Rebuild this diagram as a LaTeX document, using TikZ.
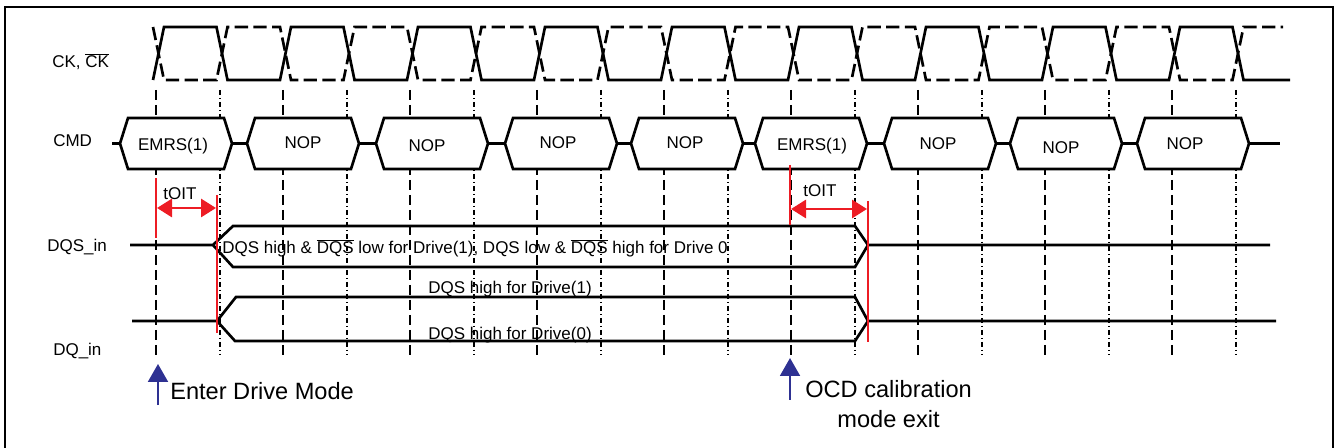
\documentclass[tikz,border=0pt]{standalone}
\usepackage{fontspec}
\setmainfont{Liberation Sans}
\usetikzlibrary{calc}
\usetikzlibrary{arrows.meta}
\definecolor{tred}{HTML}{ED1C24}
\definecolor{tblue}{HTML}{2E3192}

\begin{document}
\begin{tikzpicture}[x=0.75pt, y=-0.75pt,
    sig/.style={line width=2pt, line join=miter},
    ckbar/.style={sig, dash pattern=on 10pt off 4pt},
    tickA/.style={line width=1.5pt, dash pattern=on 7.5pt off 3.75pt},
    tickB/.style={line width=1.5pt, dash pattern=on 4pt off 2pt on 1pt off 2pt},
    txt/.style={font=\fontsize{12.75}{15}\selectfont, inner sep=0pt},
    bigtxt/.style={font=\fontsize{17.7}{22.5}\selectfont, inner sep=0pt},
    redline/.style={tred, line width=1.6pt},
    redarrow/.style={tred, line width=2.2pt, arrows={Triangle[length=11.25pt,width=13.5pt]-Triangle[length=11.25pt,width=13.5pt]}},
    bluearrow/.style={tblue, line width=1.5pt, arrows={-Triangle[length=13.5pt,width=15pt]}}]

    \useasboundingbox (0,0) rectangle (1337,448);
    \clip (0,0) rectangle (1337,448);

    % Frame
    \draw[line width=1.5pt] (5,460) -- (5,7) -- (1333,7) -- (1333,460);

    % Clock edge marks
    \foreach \k in {0,...,17} {
        \pgfmathsetmacro\gx{156+63.5*\k}
        \ifodd\k
            \draw[tickB] (\gx,90) -- (\gx,355);
        \else
            \draw[tickA] (\gx,90) -- (\gx,355);
        \fi
    }

    % CK and CK#
    \draw[sig] (153,80) \foreach \k in {0,...,17} {
        -- ({156+63.5*\k+8},{27+53*mod(\k,2)})
        -- ({min(156+63.5*(\k+1)-3,1290)},{27+53*mod(\k,2)}) };
    \draw[ckbar] (153,27) \foreach \k in {0,...,17} {
        -- ({156+63.5*\k+8},{80-53*mod(\k,2)})
        -- ({min(156+63.5*(\k+1)-3,1283)},{80-53*mod(\k,2)}) };
    \node[txt, anchor=base west] (ckLabel) at (52,68) {CK, $\overline{\mbox{CK}}$};

    % Commands
    \draw[sig] (112,143.5) -- (1280,143.5);
    \foreach \i/\xl/\tx/\ty/\cmdname in {1/120/173/151/EMRS(1), 2/247/303/149/NOP,
            3/376/427/152/NOP, 4/505/558/149/NOP, 5/631/685/149/NOP,
            6/755/812/151/EMRS(1), 7/884/938/150/NOP, 8/1010/1061/154/NOP,
            9/1137/1185/150/NOP} {
        \draw[sig, fill=white] (\xl,143.5) -- ++(8,-25.5) -- ++(96,0) -- ++(8,25.5)
            -- ++(-8,25.5) -- ++(-96,0) -- cycle;
        \node[txt, anchor=base] (cmd\i) at (\tx,\ty) {\cmdname};
    }
    \node[txt, anchor=base west] (cmdLabel) at (53,147) {CMD};

    % DQS_in
    \draw[sig] (130,245) -- (213,245) coordinate(p) -- (233,226) -- (855,226) -- (868,245) coordinate(q) -- (1270,245);
    \draw[sig] (p) -- (233,267) -- (855,267) -- (q);
    \node[txt, anchor=base west] (dqsLabel) at (47,252) {DQS\_in};
    \node[txt, anchor=base west] (dqsText) at (222,254)
        {DQS high \& $\overline{\mbox{DQS}}$ low for Drive(1), DQS low \& $\overline{\mbox{DQS}}$ high for Drive 0};

    % DQ_in
    \draw[sig] (132,321) -- (217,321) coordinate(p) -- (236,297) -- (855,297) -- (868,321) coordinate(q) -- (1276,321);
    \draw[sig] (p) -- (235,341) -- (855,341) -- (q);
    \node[txt, anchor=base west] (dqLabel) at (53,356) {DQ\_in};
    \node[txt, anchor=base west] (dqHigh) at (428,294) {DQS high for Drive(1)};
    \node[txt, anchor=base west] (dqLow) at (428,340) {DQS high for Drive(0)};

    % tOIT
    \draw[redline] (156,178) -- (156,238);
    \draw[redline] (217,195) -- (217,333);
    \draw[redarrow] (157,208) -- (216,208);
    \node[txt, anchor=base] (toitA) at (180,200) {tOIT};

    \draw[redline] (790,165) -- (790,225);
    \draw[redline] (868,201) -- (868,342);
    \draw[redarrow] (791,209) -- (867,209);
    \node[txt, anchor=base] (toitB) at (820,197) {tOIT};

    % Mode markers
    \draw[bluearrow] (158,405) -- (158,364);
    \node[bigtxt, anchor=base west] (enterDrive) at (170,399) {Enter Drive Mode};

    \draw[bluearrow] (790,400) -- (790,358);
    \node[bigtxt, anchor=north west, align=center] (ocdExit) at (805,380) {OCD calibration\\mode exit};

\end{tikzpicture}
\end{document}
